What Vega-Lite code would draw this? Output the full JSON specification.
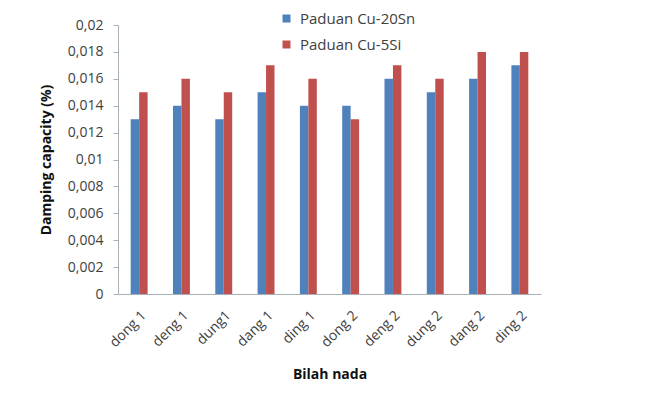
{
  "$schema": "https://vega.github.io/schema/vega-lite/v6.json",
  "autosize": {"type": "none"},
  "width": 423,
  "height": 269,
  "padding": {"left": 118, "top": 25, "right": 118, "bottom": 111},
  "background": "white",
  "config": {
    "font": "Open Sans",
    "view": {"stroke": null},
    "axis": {"grid": false, "labelColor": "#404040", "titleColor": "#111111", "labelFontSize": 14, "titleFontSize": 14, "labelFont": "Open Sans", "titleFont": "Open Sans", "domainColor": "#a8b0b8", "tickColor": "#a8b0b8"}
  },
  "data": {
    "values": [
      {"nada": "dong 1", "series": "Paduan Cu-20Sn", "value": 0.013},
      {"nada": "dong 1", "series": "Paduan Cu-5Si", "value": 0.015},
      {"nada": "deng 1", "series": "Paduan Cu-20Sn", "value": 0.014},
      {"nada": "deng 1", "series": "Paduan Cu-5Si", "value": 0.016},
      {"nada": "dung1", "series": "Paduan Cu-20Sn", "value": 0.013},
      {"nada": "dung1", "series": "Paduan Cu-5Si", "value": 0.015},
      {"nada": "dang 1", "series": "Paduan Cu-20Sn", "value": 0.015},
      {"nada": "dang 1", "series": "Paduan Cu-5Si", "value": 0.017},
      {"nada": "ding 1", "series": "Paduan Cu-20Sn", "value": 0.014},
      {"nada": "ding 1", "series": "Paduan Cu-5Si", "value": 0.016},
      {"nada": "dong 2", "series": "Paduan Cu-20Sn", "value": 0.014},
      {"nada": "dong 2", "series": "Paduan Cu-5Si", "value": 0.013},
      {"nada": "deng 2", "series": "Paduan Cu-20Sn", "value": 0.016},
      {"nada": "deng 2", "series": "Paduan Cu-5Si", "value": 0.017},
      {"nada": "dung 2", "series": "Paduan Cu-20Sn", "value": 0.015},
      {"nada": "dung 2", "series": "Paduan Cu-5Si", "value": 0.016},
      {"nada": "dang 2", "series": "Paduan Cu-20Sn", "value": 0.016},
      {"nada": "dang 2", "series": "Paduan Cu-5Si", "value": 0.018},
      {"nada": "ding 2", "series": "Paduan Cu-20Sn", "value": 0.017},
      {"nada": "ding 2", "series": "Paduan Cu-5Si", "value": 0.018}
    ]
  },
  "mark": {"type": "bar"},
  "encoding": {
    "x": {
      "field": "nada", "type": "nominal", "sort": null,
      "scale": {"paddingInner": 0.6, "paddingOuter": 0.3},
      "axis": {"title": "Bilah nada", "labelAngle": -45, "ticks": false, "labelPadding": 14, "titleFontWeight": "bold", "titlePadding": 18}
    },
    "xOffset": {"field": "series", "type": "nominal", "sort": ["Paduan Cu-20Sn", "Paduan Cu-5Si"]},
    "y": {
      "field": "value", "type": "quantitative",
      "scale": {"domain": [0, 0.02], "nice": false},
      "axis": {"title": "Damping capacity (%)", "values": [0, 0.002, 0.004, 0.006, 0.008, 0.01, 0.012, 0.014, 0.016, 0.018, 0.02], "labelExpr": "replace(format(datum.value, '~g'), '.', ',')", "tickSize": 5, "labelPadding": 10, "titleFontWeight": "bold", "titlePadding": 14}
    },
    "color": {
      "field": "series", "type": "nominal",
      "scale": {"domain": ["Paduan Cu-20Sn", "Paduan Cu-5Si"], "range": ["#4F81BD", "#C0504D"]},
      "legend": {"title": null, "orient": "none", "legendX": 161, "legendY": -14, "symbolType": "square", "symbolSize": 64, "labelFontSize": 15, "labelFont": "Open Sans", "labelColor": "#404040", "rowPadding": 10, "labelOffset": 6, "symbolStrokeWidth": 0}
    }
  }
}
